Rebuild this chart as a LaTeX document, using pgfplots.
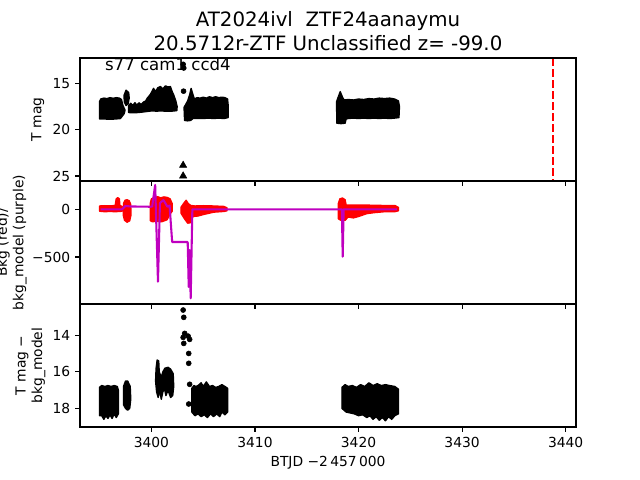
\documentclass[border=0pt]{standalone}
\usepackage{fontspec}
\setmainfont{DejaVu Sans}
\usepackage{pgfplots}
\pgfplotsset{compat=1.18}
\definecolor{mpurple}{rgb}{0.75,0,0.75}
\pgfplotsset{
  panel/.style={
    scale only axis, width=357.12bp, height=88.56bp, anchor=south west,
    xmin=3393.1, xmax=3441.0,
    axis line style={line width=0.8bp},
    tick style={line width=0.8bp, black},
    major tick length=3.5bp,
    tick align=outside,
    xtick pos=bottom, ytick pos=left,
    tick label style={font=\fontsize{10}{12}\selectfont},
    label style={font=\fontsize{10}{12}\selectfont},
    /pgf/number format/assume math mode=true,
    axis on top,
  },
  blob/.style={fill=black, draw=black, line width=1bp, line join=round, mark=none},
  rblob/.style={fill=red, draw=red, line width=1bp, line join=round, mark=none},
}
\begin{document}
\begin{tikzpicture}
\useasboundingbox (0,0) rectangle (460.8bp,345.6bp);
% ---------------- top panel ----------------
\begin{axis}[panel, at={(57.6bp,215.28bp)},
  ymin=12.27, ymax=25.54, y dir=reverse,
  ytick={15,20,25}, yticklabels={15,20,25},
  xtick={3400,3410,3420,3430,3440}, xticklabels={},
  ylabel={T mag},
  ylabel style={at={(axis description cs:-0.085,0.5)}, anchor=center},
  title={AT2024ivl\ \ ZTF24aanaymu\\20.5712r-ZTF Unclassified z= -99.0},
  title style={align=center, font=\fontsize{14.3}{17.3}\selectfont, at={(axis description cs:0.5,1)}, anchor=south, yshift=-4.5bp},
]
\addplot[blob] coordinates {(3394.98,18.85) (3394.98,17.0) (3395.1,16.7) (3395.4,16.6) (3395.7,16.65) (3396.0,16.55) (3396.3,16.62) (3396.6,16.55) (3396.9,16.6) (3397.1,16.75) (3397.25,17.4) (3397.45,17.9) (3397.35,18.3) (3397.0,18.8) (3396.5,18.85) (3396.0,18.88) (3395.5,18.85)} -- cycle;
\addplot[blob] coordinates {(3397.55,15.75) (3397.8,16.0) (3397.85,16.6) (3397.75,17.2) (3397.55,17.4) (3397.38,17.0) (3397.35,16.3)} -- cycle;
\addplot[blob] coordinates {(3397.8,18.15) (3397.8,17.4) (3398.0,17.15) (3398.2,17.4) (3398.4,17.1) (3398.6,17.35) (3398.8,17.1) (3399.0,17.3) (3399.2,17.05) (3399.45,16.9) (3399.6,16.6) (3399.9,16.2) (3400.2,15.55) (3400.4,15.9) (3400.6,15.5) (3400.87,15.35) (3401.1,15.6) (3401.35,15.28) (3401.6,15.4) (3401.83,15.35) (3402.0,15.9) (3402.15,16.26) (3402.35,16.9) (3402.48,17.5) (3402.45,17.95) (3402.0,18.0) (3401.5,18.02) (3401.0,17.98) (3400.5,18.0) (3400.0,17.98) (3399.5,18.05) (3399.0,18.12) (3398.5,18.17) (3398.0,18.17)} -- cycle;
\addplot[blob] coordinates {(3403.2,19.0) (3403.15,17.6) (3403.3,17.3) (3403.5,16.9) (3403.7,16.2) (3403.83,15.55) (3404.0,16.2) (3404.15,16.7) (3404.4,16.55) (3404.7,16.6) (3405.0,16.5) (3405.3,16.6) (3405.6,16.45) (3405.9,16.55) (3406.2,16.45) (3406.5,16.55) (3406.8,16.5) (3407.1,16.55) (3407.35,16.7) (3407.42,17.5) (3407.4,18.7) (3407.0,18.8) (3406.5,18.75) (3406.0,18.8) (3405.5,18.75) (3405.0,18.8) (3404.5,18.78) (3404.0,18.8) (3403.8,19.0) (3403.5,19.05)} -- cycle;
\addplot[blob] coordinates {(3417.9,19.3) (3417.88,17.0) (3418.0,16.6) (3418.23,15.9) (3418.45,16.5) (3418.6,16.8) (3419.0,16.75) (3419.5,16.8) (3420.0,16.7) (3420.5,16.75) (3421.0,16.65) (3421.5,16.7) (3422.0,16.6) (3422.5,16.65) (3423.0,16.6) (3423.5,16.7) (3423.85,16.9) (3423.95,17.5) (3423.9,18.7) (3423.5,18.75) (3423.0,18.8) (3422.5,18.75) (3422.0,18.8) (3421.5,18.75) (3421.0,18.8) (3420.5,18.75) (3420.0,18.8) (3419.5,18.75) (3419.0,18.8) (3418.8,18.85) (3418.7,19.3) (3418.3,19.35)} -- cycle;
\addplot[only marks, mark=*, mark size=1.8bp, black] coordinates {(3403.06,12.95) (3403.12,13.35) (3403.1,15.85)};
\addplot[only marks, mark=triangle*, mark size=3bp, black] coordinates {(3403.06,23.85) (3403.06,25.0)};
\addplot[red, line width=1.5bp, dash pattern=on 5.55bp off 2.4bp, mark=none] coordinates {(3438.75,12.27) (3438.75,25.54)};
\node[anchor=base west, font=\fontsize{12}{14.4}\selectfont, inner sep=0pt] at (axis description cs:0.05,0.9) {s77 cam1 ccd4};
\end{axis}
% ---------------- middle panel ----------------
\begin{axis}[panel, at={(57.6bp,126.72bp)},
  ymin=-993, ymax=297,
  ytick={-500,0}, yticklabels={−500,0},
  xtick={3400,3410,3420,3430,3440}, xticklabels={},
  ylabel={Bkg (red)/\\bkg\_model (purple)},
  ylabel style={at={(axis description cs:-0.138,0.5)}, anchor=center, align=center},
]
\addplot[rblob] coordinates {(3395.0,-20) (3395.0,35) (3395.5,38) (3396.0,36) (3396.5,40) (3396.6,110) (3396.75,122) (3396.9,110) (3396.95,40) (3397.17,30) (3397.17,-20) (3396.5,-25) (3396.0,-22) (3395.5,-25)} -- cycle;
\addplot[rblob] coordinates {(3397.3,60) (3397.45,95) (3397.65,100) (3397.85,90) (3398.0,50) (3398.02,-60) (3397.9,-120) (3397.65,-135) (3397.4,-115) (3397.28,-60)} -- cycle;
\addplot[rblob] coordinates {(3399.9,-120) (3399.88,60) (3400.0,110) (3400.3,125) (3400.6,132) (3400.9,120) (3401.2,130) (3401.5,125) (3401.8,110) (3402.0,60) (3402.0,-20) (3401.8,-50) (3401.5,-110) (3401.0,-130) (3400.5,-125) (3400.1,-130)} -- cycle;
\addplot[rblob] coordinates {(3402.85,-40) (3402.85,20) (3403.1,60) (3403.35,95) (3403.55,60) (3403.8,40) (3404.2,35) (3405.0,38) (3406.0,35) (3407.0,30) (3407.3,15) (3407.3,-15) (3407.0,-22) (3406.0,-30) (3405.0,-55) (3404.5,-70) (3404.0,-75) (3403.8,-140) (3403.5,-145) (3403.2,-100)} -- cycle;
\addplot[rblob] coordinates {(3418.05,-100) (3418.05,60) (3418.2,110) (3418.45,118) (3418.7,100) (3418.8,45) (3419.5,45) (3420.5,45) (3421.5,42) (3422.5,40) (3423.5,40) (3423.85,20) (3423.85,-15) (3423.5,-25) (3422.5,-25) (3421.5,-35) (3420.8,-45) (3420.0,-75) (3419.5,-90) (3419.0,-80) (3418.7,-115) (3418.3,-115)} -- cycle;
\addplot[mpurple, line width=1.5bp, mark=none, line join=round] coordinates {(3395.08,0) (3397.17,0) (3397.49,35) (3397.97,30) (3399.90,27) (3400.07,30) (3400.36,255) (3400.63,-759) (3400.82,66) (3401.16,97) (3401.54,27) (3401.75,40) (3402.00,-343) (3403.50,-343) (3403.60,-814) (3403.68,-427) (3403.79,-933) (3403.95,0) (3418.39,0) (3418.47,-497) (3418.56,0) (3423.69,0)};
\end{axis}
% ---------------- bottom panel ----------------
\begin{axis}[panel, at={(57.6bp,38.16bp)},
  ymin=12.28, ymax=19.02, y dir=reverse,
  ytick={14,16,18}, yticklabels={14,16,18},
  xtick={3400,3410,3420,3430,3440}, xticklabels={3400,3410,3420,3430,3440},
  ylabel={T mag −\\bkg\_model},
  ylabel style={at={(axis description cs:-0.1,0.5)}, anchor=center, align=center},
  xlabel={BTJD −2\,457\,000},
  xlabel style={at={(axis description cs:0.5,-0.29)}, anchor=center},
]
\addplot[blob] coordinates {(3394.98,18.4) (3394.98,16.85) (3395.2,16.75) (3395.5,16.8) (3395.8,16.75) (3396.1,16.8) (3396.4,16.75) (3396.7,16.8) (3396.8,17.0) (3396.8,18.3) (3396.6,18.5) (3396.4,18.3) (3396.2,18.55) (3396.0,18.35) (3395.8,18.55) (3395.6,18.4) (3395.4,18.6) (3395.2,18.4)} -- cycle;
\addplot[blob] coordinates {(3397.3,17.8) (3397.3,16.8) (3397.5,16.5) (3397.7,16.5) (3397.95,16.8) (3398.0,17.5) (3397.9,18.0) (3397.7,18.1) (3397.5,18.0)} -- cycle;
\addplot[blob] coordinates {(3400.4,16.5) (3400.45,15.8) (3400.55,15.35) (3400.7,15.4) (3400.75,16.0) (3400.95,16.3) (3401.1,16.0) (3401.3,15.8) (3401.6,15.75) (3401.85,15.85) (3402.1,16.1) (3402.15,16.8) (3402.05,17.3) (3401.85,17.4) (3401.6,17.0) (3401.4,17.3) (3401.25,16.9) (3401.1,17.1) (3400.95,17.5) (3400.8,17.0) (3400.65,17.4) (3400.5,17.1)} -- cycle;
\addplot[blob] coordinates {(3403.9,18.2) (3403.9,16.9) (3404.1,16.75) (3404.3,16.8) (3404.5,16.75) (3404.8,16.6) (3405.0,16.8) (3405.3,16.55) (3405.6,16.8) (3405.9,16.75) (3406.2,16.85) (3406.5,16.8) (3406.8,16.7) (3407.1,16.8) (3407.35,16.9) (3407.35,18.2) (3407.1,18.35) (3406.8,18.2) (3406.6,18.45) (3406.3,18.3) (3406.0,18.45) (3405.7,18.3) (3405.4,18.5) (3405.1,18.35) (3404.8,18.45) (3404.5,18.3) (3404.2,18.4)} -- cycle;
\addplot[blob] coordinates {(3418.4,18.0) (3418.4,16.85) (3418.7,16.7) (3419.0,16.8) (3419.4,16.75) (3419.8,16.85) (3420.2,16.7) (3420.6,16.8) (3421.0,16.6) (3421.4,16.75) (3421.8,16.65) (3422.2,16.75) (3422.6,16.7) (3423.0,16.75) (3423.5,16.8) (3423.85,16.95) (3423.85,18.3) (3423.5,18.4) (3423.2,18.6) (3422.9,18.45) (3422.6,18.68) (3422.3,18.5) (3422.0,18.65) (3421.7,18.45) (3421.4,18.6) (3421.1,18.4) (3420.8,18.5) (3420.4,18.35) (3420.0,18.4) (3419.6,18.3) (3419.2,18.25) (3418.8,18.2)} -- cycle;
\addplot[only marks, mark=*, mark size=1.8bp, black] coordinates {(3403.06,12.61) (3403.12,13.01) (3403.21,13.89) (3403.06,14.11) (3403.12,14.44) (3403.54,14.04) (3403.69,14.22) (3403.60,14.99) (3403.60,15.53) (3403.69,16.68) (3403.60,17.76)};
\end{axis}
\end{tikzpicture}
\end{document}
